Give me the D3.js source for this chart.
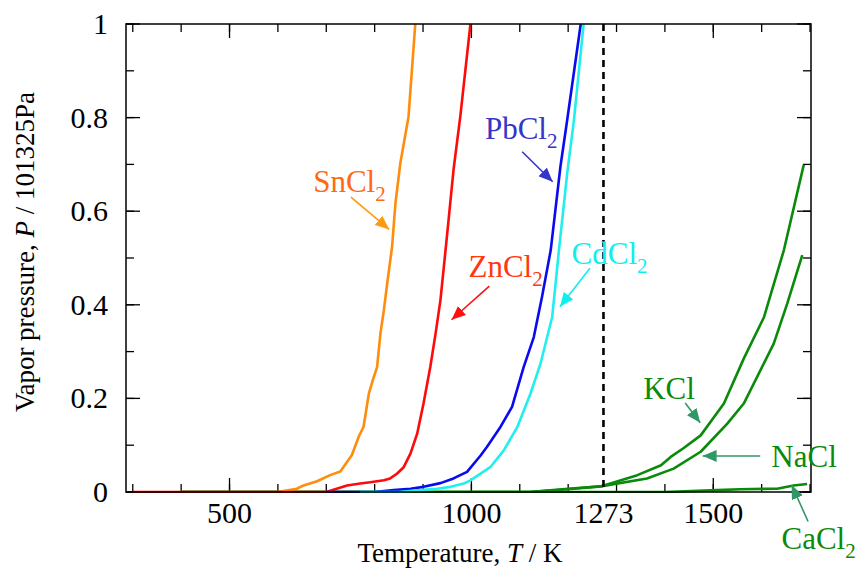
<!DOCTYPE html>
<html>
<meta charset="utf-8" />
<style>
  body { margin: 0; background: #fff; }
  text { font-family: "Liberation Serif", "Times New Roman", serif; }
</style>
<svg width="857" height="580"></svg>
<script src="https://d3js.org/d3.v7.min.js"></script>
<script>
  // vapor pressure curves (T in K, P in atm)
  const snT = [600, 639, 653, 681, 708, 729, 753, 767, 777, 788, 795, 805, 812, 819, 826, 836, 843, 853, 870, 884];
  const snP = [0, 0.007, 0.014, 0.023, 0.036, 0.044, 0.079, 0.118, 0.139, 0.21, 0.235, 0.267, 0.339, 0.388, 0.446, 0.524, 0.617, 0.702, 0.802, 1.0];

  const znT = [300, 400, 500, 600, 700, 743, 770, 791, 819, 832, 846, 860, 874, 888, 901, 915, 926, 936, 950, 963, 977, 998];
  const znP = [0, 0, 0, 0, 0, 0.014, 0.018, 0.021, 0.025, 0.029, 0.039, 0.053, 0.082, 0.125, 0.189, 0.267, 0.339, 0.41, 0.552, 0.688, 0.802, 1.0];

  const pbT = [700, 800, 839, 874, 901, 936, 963, 991, 1019, 1032, 1060, 1084, 1108, 1129, 1146, 1164, 1184, 1198, 1226];
  const pbP = [0, 0, 0.004, 0.007, 0.011, 0.019, 0.029, 0.043, 0.078, 0.096, 0.139, 0.182, 0.267, 0.331, 0.417, 0.517, 0.695, 0.795, 1.0];

  const cdT = [770, 850, 895, 929, 957, 984, 998, 1039, 1067, 1095, 1122, 1143, 1167, 1181, 1198, 1212, 1232];
  const cdP = [0, 0, 0.004, 0.007, 0.011, 0.018, 0.025, 0.053, 0.089, 0.139, 0.21, 0.275, 0.374, 0.517, 0.681, 0.795, 1.0];

  const kclT = [400, 600, 800, 1000, 1120, 1200, 1267, 1343, 1392, 1412, 1439, 1474, 1522, 1563, 1605, 1646, 1687];
  const kclP = [0, 0, 0, 0, 0, 0.007, 0.012, 0.036, 0.057, 0.075, 0.094, 0.121, 0.189, 0.285, 0.374, 0.517, 0.699];

  const naclT = [400, 600, 800, 1000, 1120, 1200, 1267, 1363, 1418, 1474, 1529, 1563, 1625, 1653, 1684];
  const naclP = [0, 0, 0, 0, 0, 0.006, 0.012, 0.029, 0.05, 0.086, 0.146, 0.189, 0.317, 0.403, 0.506];

  const caclT = [400, 600, 800, 1000, 1200, 1400, 1508, 1556, 1632, 1666, 1694];
  const caclP = [0, 0, 0, 0, 0, 0, 0.004, 0.006, 0.007, 0.014, 0.017];

  const xLabels = [500, 1000, 1273, 1500];
  const yLabels = [0, 0.2, 0.4, 0.6, 0.8, 1];
  const refT = 1273;

  // label text, label anchor (T,P), arrow start and tip (T,P)
  const names = ["SnCl", "ZnCl", "PbCl", "CdCl", "KCl", "NaCl", "CaCl"];
  const subs = ["2", "2", "2", "2", "", "", "2"];
  const labelAt = [[673, 0.641], [994, 0.459], [1028, 0.754], [1207, 0.487], [1355, 0.199], [1620, 0.053], [1641, -0.122]];
  const arrowFrom = [[751, 0.63], [1037, 0.44], [1105, 0.727], [1245, 0.478], [1442, 0.19], [1597, 0.077], [1696, -0.063]];
  const arrowTo = [[830, 0.561], [959, 0.368], [1168, 0.663], [1183, 0.396], [1473, 0.148], [1478, 0.077], [1662, 0.015]];

  const series = [
    { T: caclT, P: caclP, color: "#0a8a0a" },
    { T: naclT, P: naclP, color: "#0a8a0a" },
    { T: kclT, P: kclP, color: "#0a8a0a" },
    { T: snT, P: snP, color: "#ff8c0a" },
    { T: znT, P: znP, color: "#ff0a0a" },
    { T: pbT, P: pbP, color: "#0a0aee" },
    { T: cdT, P: cdP, color: "#22eeee" },
  ];
  const textColors = ["#ff6a10", "#ff3810", "#3535c8", "#10eeee", "#0a8a0a", "#0a8a0a", "#0a8a0a"];
  const arrowColors = ["#ff9a10", "#ff1010", "#3535c8", "#10eeee", "#2e9966", "#2e9966", "#2e9966"];

  const svg = d3.select("svg");
  const mLeft = 126, mRight = 811, mTop = 24, mBottom = 492;

  const x = d3.scaleLinear().domain([286, 1702]).range([mLeft, mRight]);
  const y = d3.scaleLinear().domain([0, 1]).range([mBottom, mTop]);

  svg.append("defs").append("clipPath").attr("id", "plot")
    .append("rect").attr("x", mLeft).attr("y", mTop - 1)
    .attr("width", mRight - mLeft).attr("height", mBottom - mTop + 2);

  // ticks, all pointing inward
  const minorX = d3.range(300, 1701, 100);
  const majorX = [500, 1000, 1500];
  const minorY = d3.range(0, 1.01, 0.1);
  const majorY = [0, 0.2, 0.4, 0.6, 0.8, 1];

  const tickG = svg.append("g").attr("stroke", "#000").attr("stroke-width", 1.3);
  function xTicks(vals, len) {
    vals.forEach((v) => {
      tickG.append("line").attr("x1", x(v)).attr("x2", x(v)).attr("y1", mBottom).attr("y2", mBottom - len);
      tickG.append("line").attr("x1", x(v)).attr("x2", x(v)).attr("y1", mTop).attr("y2", mTop + len);
    });
  }
  function yTicks(vals, len) {
    vals.forEach((v) => {
      tickG.append("line").attr("x1", mLeft).attr("x2", mLeft + len).attr("y1", y(v)).attr("y2", y(v));
      tickG.append("line").attr("x1", mRight).attr("x2", mRight - len).attr("y1", y(v)).attr("y2", y(v));
    });
  }
  xTicks(minorX, 8);
  xTicks(majorX, 14);
  yTicks(minorY, 8);
  yTicks(majorY, 14);

  // data lines
  const line = d3.line().x((d) => x(d[0])).y((d) => y(d[1]));
  const lines = svg.append("g").attr("clip-path", "url(#plot)");
  series.forEach((s) => {
    lines.append("path")
      .datum(s.T.map((t, i) => [t, s.P[i]]))
      .attr("d", line)
      .attr("fill", "none")
      .attr("stroke", s.color)
      .attr("stroke-width", 2.6)
      .attr("stroke-linejoin", "round");
  });

  // 1273 K reference line
  svg.append("line")
    .attr("x1", x(refT)).attr("x2", x(refT))
    .attr("y1", y(1)).attr("y2", y(0))
    .attr("stroke", "#000").attr("stroke-width", 2.6)
    .attr("stroke-dasharray", "7,5");

  // frame
  svg.append("rect")
    .attr("x", mLeft).attr("y", mTop)
    .attr("width", mRight - mLeft).attr("height", mBottom - mTop)
    .attr("fill", "none").attr("stroke", "#000").attr("stroke-width", 1.5);

  // tick labels
  svg.append("g").selectAll("text").data(xLabels).join("text")
    .attr("x", (d) => x(d)).attr("y", 523)
    .attr("text-anchor", "middle").attr("font-size", 30)
    .text((d) => d);
  svg.append("g").selectAll("text").data(yLabels).join("text")
    .attr("x", 108).attr("y", (d) => y(d) + 10)
    .attr("text-anchor", "end").attr("font-size", 30)
    .text((d) => d3.format("~g")(d));

  // axis titles
  const xt = svg.append("text").attr("x", 460).attr("y", 562)
    .attr("text-anchor", "middle").attr("font-size", 27);
  xt.append("tspan").text("Temperature, ");
  xt.append("tspan").attr("font-style", "italic").text("T");
  xt.append("tspan").text(" / K");

  const yt = svg.append("text")
    .attr("transform", "translate(34,252) rotate(-90)")
    .attr("text-anchor", "middle").attr("font-size", 27);
  yt.append("tspan").text("Vapor pressure, ");
  yt.append("tspan").attr("font-style", "italic").text("P");
  yt.append("tspan").text(" / 101325Pa");

  // arrowheads
  const defs = svg.select("defs");
  arrowColors.forEach((c, i) => {
    defs.append("marker")
      .attr("id", "arr" + i)
      .attr("viewBox", "0 0 14 12")
      .attr("refX", 14).attr("refY", 6)
      .attr("markerWidth", 14).attr("markerHeight", 12)
      .attr("markerUnits", "userSpaceOnUse")
      .attr("orient", "auto")
      .append("path").attr("d", "M0,0L14,6L0,12Z").attr("fill", c);
  });

  // annotations
  const ann = svg.append("g");
  names.forEach((n, i) => {
    ann.append("line")
      .attr("x1", x(arrowFrom[i][0])).attr("y1", y(arrowFrom[i][1]))
      .attr("x2", x(arrowTo[i][0])).attr("y2", y(arrowTo[i][1]))
      .attr("stroke", arrowColors[i]).attr("stroke-width", 1.6)
      .attr("marker-end", "url(#arr" + i + ")");
    const t = ann.append("text")
      .attr("x", x(labelAt[i][0])).attr("y", y(labelAt[i][1]))
      .attr("font-size", 31).attr("fill", textColors[i]);
    t.append("tspan").text(n);
    if (subs[i]) {
      t.append("tspan").attr("font-size", 21).attr("dy", 9).text(subs[i]);
    }
  });
</script>
</html>
